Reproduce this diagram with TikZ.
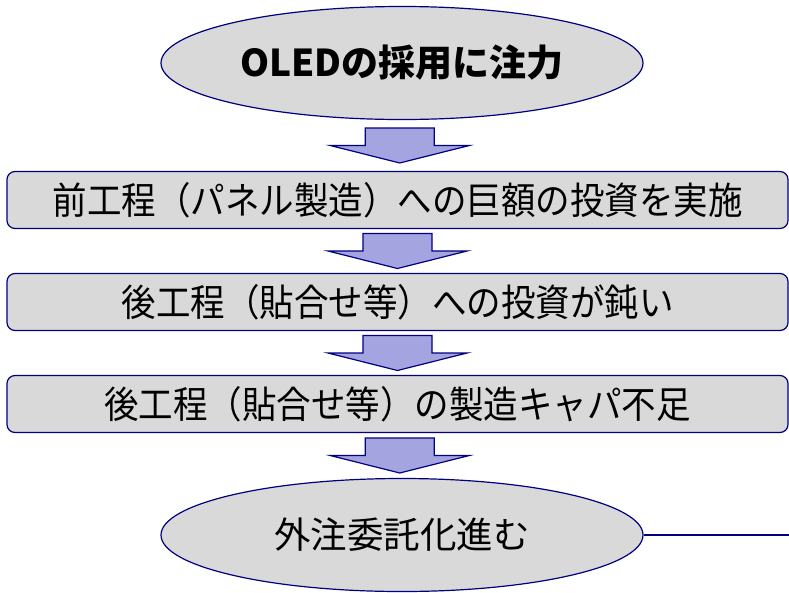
\documentclass[tikz,border=0pt]{standalone}
\usepackage{fontspec}
\setmainfont{Noto Sans CJK JP}
\newfontfamily\jpnarrow[FakeStretch=0.92]{Noto Sans CJK JP}
\usetikzlibrary{shapes.geometric,calc}
\definecolor{navy}{RGB}{0,0,128}
\definecolor{boxfill}{RGB}{217,217,217}
\definecolor{arrowfill}{RGB}{164,164,224}
\tikzset{
  oval/.style={ellipse, draw=navy, fill=boxfill, line width=1.2pt,
    minimum width=482pt, minimum height=113pt, inner sep=0pt,
    font=\fontsize{36.5}{40}\selectfont},
  stepbox/.style={rectangle, rounded corners=8pt, draw=navy, fill=boxfill,
    line width=1.2pt, minimum width=781pt, minimum height=57pt, inner sep=0pt,
    font=\jpnarrow\fontsize{37.5}{40}\selectfont},
  fatarrow/.style={draw=navy, fill=arrowfill, line width=1.2pt, line join=miter},
  plainline/.style={draw=navy, line width=1.2pt}
}
\newcommand\blockarrow[2]{%
  \path (#1.south) -- coordinate[pos=0.5] (mid#1) (#2.north);
  \draw[fatarrow] ($(mid#1)+(-34.5,-17.5)$) -- ++(69,0) -- ++(0,17.5)
    -- ++(35,0) -- ($(mid#1)+(0,17.5)$) -- ++(-69.5,-17.5) -- ++(35,0) -- cycle;
}
\begin{document}
\begin{tikzpicture}[x=1pt,y=-1pt]
  \useasboundingbox (0,0) rectangle (789,592);
  \node[oval] (e1) at (402,63) {\fontsize{37}{40}\selectfont\bfseries OLEDの採用に注力};
  \node[stepbox] (b1) at (397.5,200) {前工程（パネル製造）への巨額の投資を実施};
  \node[stepbox] (b2) at (397.5,302) {後工程（貼合せ等）への投資が鈍い};
  \node[stepbox] (b3) at (397.5,404) {後工程（貼合せ等）の製造キャパ不足};
  \node[oval] (e2) at (402,535) {外注委託化進む};
  \blockarrow{e1}{b1}
  \blockarrow{b1}{b2}
  \blockarrow{b2}{b3}
  \blockarrow{b3}{e2}
  \coordinate (lineend) at (789,537);
  \draw[plainline] (e2.east) -- (e2.east -| lineend);
\end{tikzpicture}
\end{document}
